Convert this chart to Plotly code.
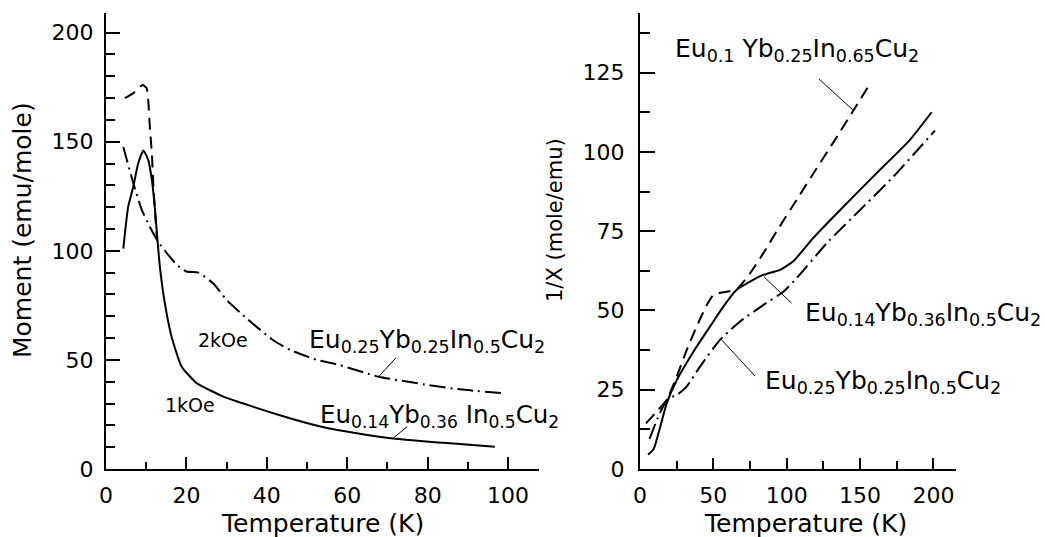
import plotly.graph_objects as go

# ---------------- Left panel: Moment vs Temperature ----------------
left_solid_T = [4.3, 5.5, 6.8, 8.0, 9.3, 10.5, 11.4, 12.2, 12.8, 13.4, 14.5, 16.3, 18.8, 22.6,
                29.2, 35, 40.3, 47, 53.6, 62, 71.4, 84, 96.7]
left_solid_M = [101, 120, 129.5, 140, 146, 141.7, 132.6, 118.8, 105, 92.8, 77.5, 60.7, 47, 39.3,
                33.2, 29.5, 26.3, 22.6, 19.4, 16.5, 14, 12, 10.2]

left_dash_T = [4.7, 6.8, 9.1, 10.1, 10.5, 10.9, 11.4, 11.8, 12.2, 12.7]
left_dash_M = [170, 172.3, 176, 174.6, 169, 157, 144.8, 129.5, 117.4, 105]

left_dashdot_T = [4.3, 6.8, 8.9, 10.9, 13, 15.1, 17.6, 20, 23, 26.7, 30, 35, 41.6, 45.8,
                  52.4, 58, 67.8, 80.2, 88, 98.9]
left_dashdot_M = [147.6, 131, 118.8, 111, 104, 99, 93.6, 90.5, 90, 85, 77.5, 69, 59, 54.6,
                  50, 47.7, 42.3, 38.5, 36.5, 34.7]

# ---------------- Right panel: 1/X vs Temperature ----------------
right_solid_T = [5.5, 9.5, 13.2, 18.2, 25, 36.4, 47.7, 56.8, 65.9, 75, 84, 95.4, 104.5, 118,
                 138.6, 161.3, 184, 198.8]
right_solid_Y = [4.5, 6.5, 12.3, 20.7, 28, 37, 44.9, 51.2, 56.5, 59.1, 61.2, 62.8, 65.5, 72.8,
                 82.7, 93.3, 103.8, 112.5]

right_dash_T = [4.1, 11.4, 18.2, 25, 31.8, 38.6, 45.5, 50, 55, 59.1, 65.9, 75, 84, 93.2,
                109, 120, 131.8, 145.4, 155.6]
right_dash_Y = [14.4, 18.1, 21.8, 29.1, 37.5, 44.9, 51.7, 54.9, 55.6, 55.9, 56.7, 61.7, 68,
                75.0, 86.5, 94.5, 103, 113, 120.6]

right_dashdot_T = [6.5, 9, 12, 15.5, 19.3, 25, 31.8, 40.9, 54.5, 68.2, 84, 97.7, 106.8, 127.3,
                   150, 172.7, 201]
right_dashdot_Y = [9.5, 12.5, 16, 19.5, 22.3, 23.3, 26, 32.3, 40.7, 46.5, 51.7, 55.9, 60.2,
                   71.2, 81.7, 92.2, 106.7]

left_yticks = [0, 50, 100, 150, 200]
left_xticks = [0, 20, 40, 60, 80, 100]
right_yticks = [0, 25, 50, 75, 100, 125]
right_xticks = [0, 50, 100, 150, 200]

FONT = "DejaVu Sans"
BLACK = "black"
DASH = "12px,7px"
DASHDOT = "16px,5px,2px,5px"

fig = go.Figure()

def add_line(x, y, dash, xa, ya):
    fig.add_trace(go.Scatter(x=x, y=y, mode="lines", xaxis=xa, yaxis=ya,
                             line=dict(color=BLACK, width=2, dash=dash, shape="spline",
                                       smoothing=0.5),
                             showlegend=False, hoverinfo="skip"))

add_line(left_solid_T, left_solid_M, "solid", "x", "y")
add_line(left_dash_T, left_dash_M, DASH, "x", "y")
add_line(left_dashdot_T, left_dashdot_M, DASHDOT, "x", "y")
add_line(right_solid_T, right_solid_Y, "solid", "x2", "y2")
add_line(right_dash_T, right_dash_Y, DASH, "x2", "y2")
add_line(right_dashdot_T, right_dashdot_Y, DASHDOT, "x2", "y2")

W, H = 1045, 537
yb, yt = (H - 469) / H, (H - 13) / H

def axis(domain, rng, ticks, dt_minor, major_len, minor_len, anchor, standoff):
    return dict(domain=domain, range=rng, tickmode="array", tickvals=ticks,
                ticks="inside", ticklen=major_len, tickwidth=2, tickcolor=BLACK,
                showline=True, linewidth=2, linecolor=BLACK, showgrid=False,
                zeroline=False, anchor=anchor, ticklabelstandoff=standoff,
                automargin=False,
                tickfont=dict(family=FONT, size=22, color=BLACK),
                minor=dict(ticks="inside", dtick=dt_minor, tick0=0, ticklen=minor_len,
                           tickwidth=2, tickcolor=BLACK, showgrid=False))

fig.update_layout(
    template="none",
    width=W, height=H, margin=dict(l=0, r=0, t=0, b=0, pad=0, autoexpand=False),
    paper_bgcolor="white", plot_bgcolor="white", showlegend=False,
    xaxis=axis([106 / W, 539 / W], [0, 107.7], left_xticks, 10, 12, 7, "y", 6),
    yaxis=axis([yb, yt], [0, 209], left_yticks, 10, 14, 9, "x", 6),
    xaxis2=axis([640 / W, 956 / W], [0, 215.4], right_xticks, 25, 11, 8, "y2", 6),
    yaxis2=axis([yb, yt], [0, 143.8], right_yticks, 12.5, 15, 10, "x2", 9),
)

anns = []
def label(text, x, y, xref, yref, size=25, xanchor="left", yanchor="middle", angle=0):
    anns.append(dict(text=text, x=x, y=y, xref=xref, yref=yref, showarrow=False,
                     xanchor=xanchor, yanchor=yanchor, textangle=angle,
                     font=dict(family=FONT, size=size, color=BLACK)))

# axis titles
label("Temperature (K)", 322 / W, (H - 523) / H, "paper", "paper", 25, "center")
label("Temperature (K)", 805 / W, (H - 523) / H, "paper", "paper", 25, "center")
label("Moment (emu/mole)", 22 / W, (H - 230) / H, "paper", "paper", 25, "center", angle=-90)
label("1/X (mole/emu)", 555 / W, (H - 220) / H, "paper", "paper", 21, "center", angle=-90)

# left panel labels
label("Eu<sub>0.25</sub>Yb<sub>0.25</sub>In<sub>0.5</sub>Cu<sub>2</sub>", 50, 58.5, "x", "y")
label("Eu<sub>0.14</sub>Yb<sub>0.36</sub> In<sub>0.5</sub>Cu<sub>2</sub>", 52.7, 24.1, "x", "y", 24.5)
label("2kOe", 29, 59.2, "x", "y", 19, "center")
label("1kOe", 20.8, 29.4, "x", "y", 19, "center")

# right panel labels
label("Eu<sub>0.1</sub> Yb<sub>0.25</sub>In<sub>0.65</sub>Cu<sub>2</sub>", 22.5, 132.2, "x2", "y2")
label("Eu<sub>0.14</sub>Yb<sub>0.36</sub>In<sub>0.5</sub>Cu<sub>2</sub>", 111, 49, "x2", "y2")
label("Eu<sub>0.25</sub>Yb<sub>0.25</sub>In<sub>0.5</sub>Cu<sub>2</sub>", 83.8, 27.5, "x2", "y2")

fig.update_layout(annotations=anns)

# leader lines
leaders = [
    ("x", "y", 72.1, 50.9, 67.8, 42.3),
    ("x", "y", 74.9, 19.4, 71.4, 14.1),
    ("x2", "y2", 122, 123, 145.2, 113.2),
    ("x2", "y2", 84.5, 60.6, 103.3, 52.3),
    ("x2", "y2", 55.7, 40.7, 78.4, 29.3),
]
for xr, yr, x0, y0, x1, y1 in leaders:
    fig.add_shape(type="line", xref=xr, yref=yr, x0=x0, y0=y0, x1=x1, y1=y1,
                  line=dict(color=BLACK, width=1))

fig.write_html("out.html")
